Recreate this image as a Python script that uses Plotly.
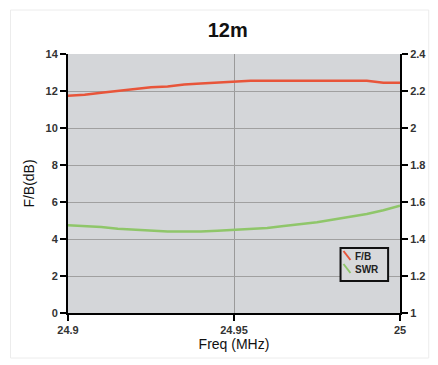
import plotly.graph_objects as go

freq = [24.9, 24.905, 24.91, 24.915, 24.92, 24.925, 24.93, 24.935, 24.94, 24.945,
        24.95, 24.955, 24.96, 24.965, 24.97, 24.975, 24.98, 24.985, 24.99, 24.995, 25.0]
fb = [11.75, 11.8, 11.9, 12.0, 12.1, 12.2, 12.25, 12.35, 12.4, 12.45,
      12.5, 12.55, 12.55, 12.55, 12.55, 12.55, 12.55, 12.55, 12.55, 12.45, 12.45]
swr = [1.475, 1.47, 1.465, 1.455, 1.45, 1.445, 1.44, 1.44, 1.44, 1.445,
       1.45, 1.455, 1.46, 1.47, 1.48, 1.49, 1.505, 1.52, 1.535, 1.555, 1.58]

x_ticks = [24.9, 24.95, 25.0]
x_labels = ["24.9", "24.95", "25"]
left_ticks = [0, 2, 4, 6, 8, 10, 12, 14]
left_labels = ["0", "2", "4", "6", "8", "10", "12", "14"]
right_ticks = [1, 1.2, 1.4, 1.6, 1.8, 2, 2.2, 2.4]
right_labels = ["1", "1.2", "1.4", "1.6", "1.8", "2", "2.2", "2.4"]
series_names = ["F/B", "SWR"]
series_colors = ["#e8553a", "#8fc66a"]

W, H = 438, 365
ML, MR, MT, MB = 68, 35, 54, 52
PW, PH = W - ML - MR, H - MT - MB


def px(xp):
    return (xp - ML) / PW


def py(yp):
    return (H - MB - yp) / PH


def bold(labels):
    return ["<b>" + s + "</b>" for s in labels]


fig = go.Figure()
fig.add_trace(go.Scatter(x=freq, y=fb, name=series_names[0], mode="lines",
                         line=dict(color=series_colors[0], width=2.5)))
fig.add_trace(go.Scatter(x=freq, y=swr, name=series_names[1], mode="lines", yaxis="y2",
                         line=dict(color=series_colors[1], width=2.5)))

font_family = "Liberation Sans, Arial, sans-serif"
tickfont = dict(size=11, family=font_family, color="#333")
fig.update_layout(
    width=W, height=H,
    margin=dict(l=ML, r=MR, t=MT, b=MB),
    paper_bgcolor="white",
    plot_bgcolor="#d4d6d9",
    title=dict(text="<b>12m</b>", x=0.52, xanchor="center", y=0.917, yanchor="middle",
               font=dict(family=font_family, size=20, color="#111")),
    font=dict(family=font_family, color="#111"),
    showlegend=False,
    xaxis=dict(range=[24.9, 25.0], tickvals=x_ticks, ticktext=bold(x_labels),
               showgrid=True, gridcolor="#9a9a9a", gridwidth=1,
               showline=True, linecolor="black", linewidth=2,
               ticks="outside", ticklen=6, tickwidth=2, tickcolor="black",
               tickfont=tickfont,
               title=dict(text="Freq (MHz)", font=dict(size=14), standoff=4),
               zeroline=False),
    yaxis=dict(range=[0, 14], tickvals=left_ticks, ticktext=bold(left_labels),
               showgrid=True, gridcolor="#a0a0a0", gridwidth=1,
               showline=True, linecolor="black", linewidth=2,
               ticks="outside", ticklen=6, tickwidth=2, tickcolor="black",
               tickfont=tickfont,
               title=dict(text="F/B(dB)", font=dict(size=14), standoff=8),
               zeroline=False),
    yaxis2=dict(range=[1, 2.4], tickvals=right_ticks, ticktext=bold(right_labels),
                overlaying="y", side="right", showgrid=False,
                showline=True, linecolor="black", linewidth=2,
                ticks="outside", ticklen=6, tickwidth=2, tickcolor="black",
                tickfont=tickfont, zeroline=False),
)

# outer faint frame
fig.add_shape(type="rect", xref="paper", yref="paper",
              x0=px(10), x1=px(432), y0=py(358), y1=py(10),
              line=dict(color="#ececec", width=1), fillcolor="rgba(0,0,0,0)", layer="below")

# legend box (custom, small)
fig.add_shape(type="rect", xref="paper", yref="paper",
              x0=px(343), x1=px(391), y0=py(281), y1=py(248),
              line=dict(color="#111", width=2), fillcolor="#d8d9db")
leg_rows = [256, 269]
for name, color, yc in zip(series_names, series_colors, leg_rows):
    fig.add_shape(type="line", xref="paper", yref="paper",
                  x0=px(346), x1=px(353), y0=py(yc - 5), y1=py(yc + 4),
                  line=dict(color=color, width=2))
    fig.add_annotation(text="<b>" + name + "</b>", xref="paper", yref="paper",
                       x=px(356), y=py(yc), xanchor="left", yanchor="middle",
                       showarrow=False, font=dict(size=10, family=font_family, color="#222"))

fig.write_html("out.html", config={"displayModeBar": False},
               post_script="document.body.style.margin='0';document.body.style.padding='0';")
